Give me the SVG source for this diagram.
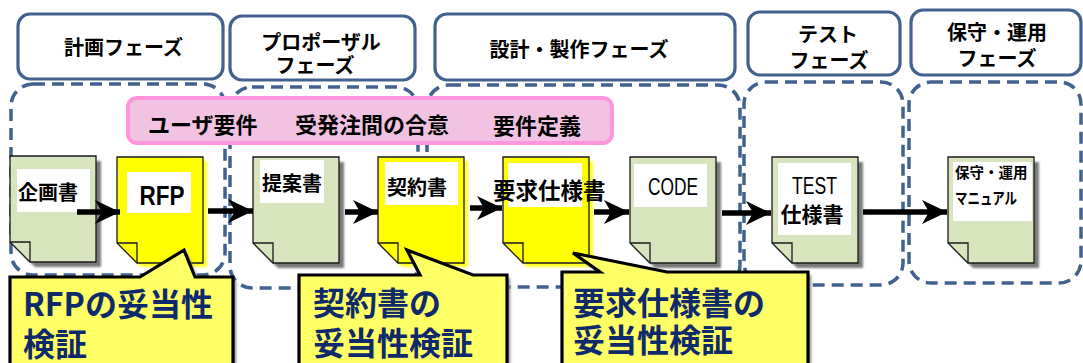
<svg xmlns="http://www.w3.org/2000/svg" width="1083" height="363" viewBox="0 0 1083 363">
<style>
.hdr{fill:#fff;stroke:#41628f;stroke-width:3.2}
.reg{fill:none;stroke:#41628f;stroke-width:3.5;stroke-dasharray:12 7}
.pink{fill:#f2c2e2;stroke:#ff95dc;stroke-width:4}
.dg{fill:#d7e4bd;stroke:#1a1a1a;stroke-width:1.3}
.dy{fill:#ffff00;stroke:#1a1a1a;stroke-width:1.3}
.shg{fill:#7a7a7a;filter:url(#sh)}
.shy{fill:#ffff20;filter:url(#sh)}
.fold{fill:none;stroke:#1a1a1a;stroke-width:1.3}
.wb{fill:#fff}
.t{font-family:"Noto Sans CJK JP","Noto Sans",sans-serif;font-weight:700;fill:#000}
.lat{font-family:"Liberation Sans",Arial,sans-serif;fill:#000}
.h{font-size:20px}
.p{font-size:22px}
.call{fill:#ffff66;stroke:#000;stroke-width:3.2;stroke-linejoin:miter}
.ct{font-family:"Noto Sans CJK JP","Noto Sans",sans-serif;font-weight:700;font-size:32px;fill:#0f2a6b}
.arr{fill:none;stroke:#000;stroke-width:5.5;marker-end:url(#ah)}
</style>
<defs>
<path id="doc" d="M0,0 H86 V106 H20 L0,86 Z"/>
<path id="fold" d="M0,86 H20 V106"/>
<filter id="sh" x="-10%" y="-10%" width="130%" height="130%"><feGaussianBlur stdDeviation="1"/></filter>
<filter id="csh" x="-10%" y="-10%" width="130%" height="130%"><feGaussianBlur stdDeviation="1.5"/></filter>
<marker id="ah" markerUnits="userSpaceOnUse" markerWidth="26" markerHeight="26" viewBox="0 0 26 26" refX="25" refY="13" orient="auto"><path d="M0,1 L25,13 L0,25 L7,13 Z" fill="#000"/></marker>
</defs>

<g id="phase-regions">
<rect class="reg" x="11" y="84" width="214" height="191" rx="22"/>
<rect class="reg" x="230" y="87" width="188" height="201" rx="22"/>
<rect class="reg" x="427" y="85" width="313" height="202" rx="22"/>
<rect class="reg" x="744" y="82" width="159" height="203" rx="22"/>
<rect class="reg" x="909" y="82" width="172" height="201" rx="22"/>
</g>

<g id="header-keikaku"><rect class="hdr" x="18" y="14" width="205" height="65" rx="12"/><text class="t h" x="123.5" y="54.6" text-anchor="middle">計画フェーズ</text></g>
<g id="header-proposal"><rect class="hdr" x="230" y="16" width="185" height="64" rx="12"/><text class="t h" x="321" y="49.6" text-anchor="middle">プロポーザル</text><text class="t h" x="315" y="72.6" text-anchor="middle">フェーズ</text></g>
<g id="header-design"><rect class="hdr" x="435" y="14" width="300" height="66" rx="12"/><text class="t h" x="579" y="56.6" text-anchor="middle">設計・製作フェーズ</text></g>
<g id="header-test"><rect class="hdr" x="748" y="12" width="152" height="63" rx="12"/><text class="t h" x="828" y="41.6" text-anchor="middle">テスト</text><text class="t h" x="829" y="67.6" text-anchor="middle">フェーズ</text></g>
<g id="header-maint"><rect class="hdr" x="911" y="10" width="170" height="65" rx="12"/><text class="t h" x="997" y="39.6" text-anchor="middle">保守・運用</text><text class="t h" x="997" y="65.6" text-anchor="middle">フェーズ</text></g>

<g id="agreement-bar">
<rect class="pink" x="128" y="98" width="484" height="45" rx="9"/>
<text class="t p" x="148" y="133">ユーザ要件</text>
<text class="t p" x="295" y="133">受発注間の合意</text>
<text class="t p" x="493" y="134">要件定義</text>
</g>

<g id="doc-kikaku" transform="translate(10,156)">
<use href="#doc" x="5" y="5" class="shg"/><use href="#doc" class="dg"/><use href="#fold" class="fold"/>
<rect class="wb" x="7" y="13" width="73" height="43"/>
<text class="t h" x="8" y="43.6">企画書</text>
</g>
<g id="doc-rfp" transform="translate(117,157)">
<use href="#doc" x="4" y="4" class="shy"/><use href="#doc" class="dy"/><use href="#fold" class="fold"/>
<rect class="wb" x="10" y="15" width="64" height="41"/>
<text class="lat" x="45" y="48" font-size="27" font-weight="700" text-anchor="middle" textLength="45" lengthAdjust="spacingAndGlyphs">RFP</text>
</g>
<g id="doc-teian" transform="translate(253,157)">
<use href="#doc" x="5" y="5" class="shg"/><use href="#doc" class="dg"/><use href="#fold" class="fold"/>
<rect class="wb" x="7" y="3" width="64" height="43"/>
<text class="t h" x="9" y="34">提案書</text>
</g>
<g id="doc-keiyaku" transform="translate(378,157)">
<use href="#doc" x="4" y="4" class="shy"/><use href="#doc" class="dy"/><use href="#fold" class="fold"/>
<rect class="wb" x="7" y="5" width="73" height="43"/>
<text class="t h" x="9" y="37.6">契約書</text>
</g>
<g id="doc-youkyu" transform="translate(503,157)">
<use href="#doc" x="4" y="4" class="shy"/><use href="#doc" class="dy"/><use href="#fold" class="fold"/>
<rect class="wb" x="5" y="6" width="74" height="44"/>
<text class="t" x="-10" y="41.5" font-size="22.5">要求仕様書</text>
</g>
<g id="doc-code" transform="translate(630,157)">
<use href="#doc" x="5" y="5" class="shg"/><use href="#doc" class="dg"/><use href="#fold" class="fold"/>
<rect class="wb" x="4" y="7" width="73" height="43"/>
<text class="lat" x="43" y="38" font-size="23" text-anchor="middle" textLength="50" lengthAdjust="spacingAndGlyphs">CODE</text>
</g>
<g id="doc-test" transform="translate(772,157)">
<use href="#doc" x="5" y="5" class="shg"/><use href="#doc" class="dg"/><use href="#fold" class="fold"/>
<rect class="wb" x="6" y="6" width="73" height="72"/>
<text class="lat" x="42.5" y="37" font-size="23" text-anchor="middle" textLength="45" lengthAdjust="spacingAndGlyphs">TEST</text>
<text class="t" x="40" y="65" font-size="21" text-anchor="middle">仕様書</text>
</g>
<g id="doc-maint" transform="translate(948,157)">
<use href="#doc" x="5" y="5" class="shg"/><use href="#doc" class="dg"/><use href="#fold" class="fold"/>
<rect class="wb" x="5" y="5" width="79" height="59"/>
<text class="t" x="7" y="20.5" font-size="14.5">保守・運用</text>
<text class="t" x="7" y="47" font-size="16" textLength="62" lengthAdjust="spacingAndGlyphs">マニュアル</text>
</g>

<g id="connectors">
<line class="arr" x1="77" y1="212" x2="120" y2="212"/>
<line class="arr" x1="208" y1="211" x2="253" y2="211"/>
<line class="arr" x1="345" y1="212" x2="378" y2="212"/>
<line class="arr" x1="470" y1="208" x2="502" y2="208"/>
<line class="arr" x1="594" y1="212" x2="629" y2="212"/>
<line class="arr" x1="722" y1="213" x2="771" y2="213"/>
<line class="arr" x1="863" y1="212" x2="947" y2="212"/>
</g>

<g id="callout-rfp">
<path d="M10,277 H140 L184,250 L195,277 H233 V372 H10 Z" fill="#888" filter="url(#csh)" transform="translate(3,3)"/>
<path class="call" d="M10,277 H140 L184,250 L195,277 H233 V372 H10 Z"/>
<text class="ct" x="23" y="315.5">RFPの妥当性</text>
<text class="ct" x="23" y="355.5">検証</text>
</g>
<g id="callout-keiyaku">
<path d="M299,275 H420 L407,250 L473,275 H507 V372 H299 Z" fill="#888" filter="url(#csh)" transform="translate(3,3)"/>
<path class="call" d="M299,275 H420 L407,250 L473,275 H507 V372 H299 Z"/>
<text class="ct" x="313" y="315">契約書の</text>
<text class="ct" x="313" y="355">妥当性検証</text>
</g>
<g id="callout-youkyu">
<path d="M562,272 H600 L573,253 L667,272 H808 V372 H562 Z" fill="#888" filter="url(#csh)" transform="translate(3,3)"/>
<path class="call" d="M562,272 H600 L573,253 L667,272 H808 V372 H562 Z"/>
<text class="ct" x="573" y="314.5">要求仕様書の</text>
<text class="ct" x="573" y="352">妥当性検証</text>
</g>
</svg>
